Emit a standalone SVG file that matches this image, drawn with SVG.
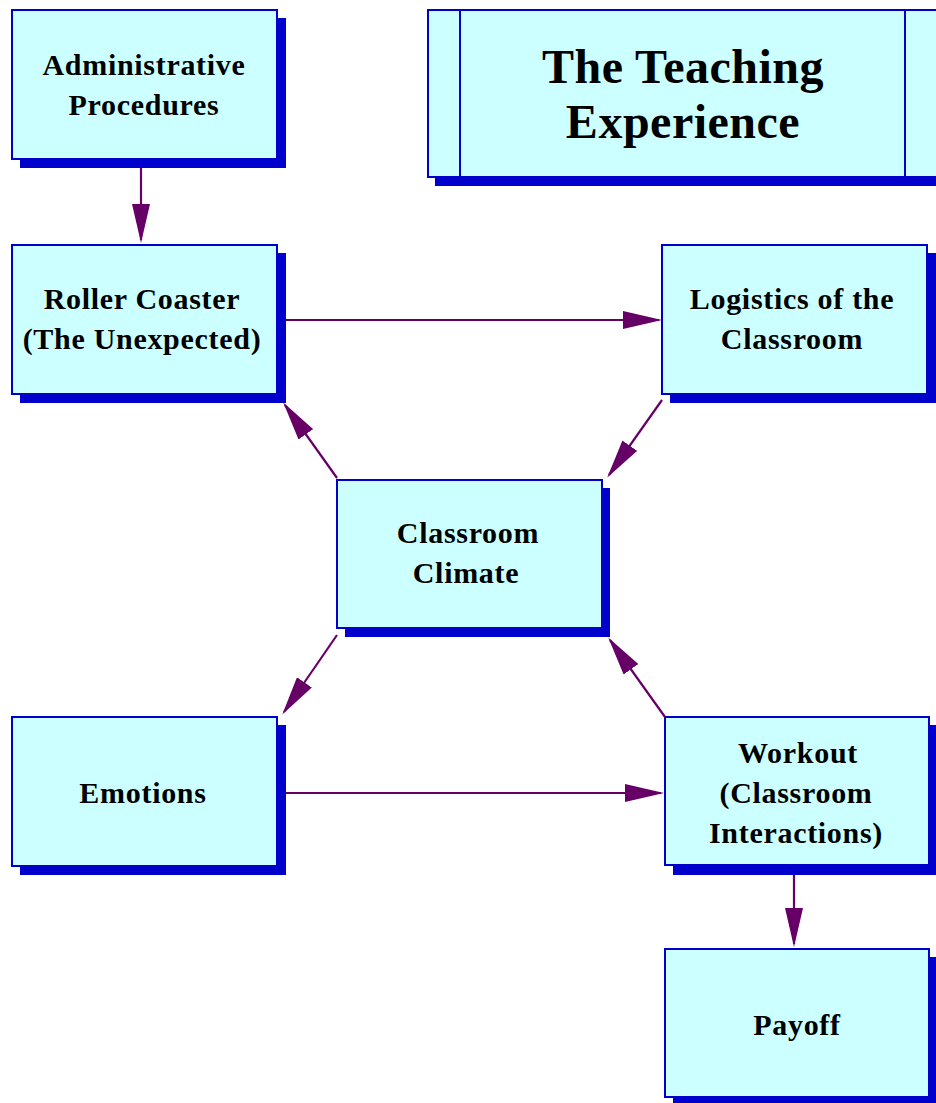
<svg xmlns="http://www.w3.org/2000/svg" width="936" height="1103" viewBox="0 0 936 1103">
  <style>
    .shadow { fill: #0000cc; }
    .box { fill: #ccffff; stroke: #0000cc; stroke-width: 2; }
    .label { font-family: "Liberation Serif", "Times New Roman", serif; font-weight: bold; font-size: 30px; letter-spacing: 0.7px; fill: #000; text-anchor: middle; }
    .title { font-size: 48px; letter-spacing: 0.5px; }
    .edge { stroke: #660066; stroke-width: 2.2; fill: none; marker-end: url(#head); }
  </style>
  <defs>
    <marker id="head" viewBox="0 0 39 18" refX="36" refY="9" markerWidth="39" markerHeight="18" markerUnits="userSpaceOnUse" orient="auto">
      <path d="M0,0 L39,9 L0,18 Z" fill="#660066"/>
    </marker>
  </defs>

  <rect width="936" height="1103" fill="#ffffff"/>

  <!-- title banner -->
  <g id="title">
    <rect class="shadow" x="435" y="17" width="520" height="169"/>
    <rect class="box" x="428" y="10" width="520" height="167"/>
    <line x1="460" y1="10" x2="460" y2="177" stroke="#0000cc" stroke-width="2"/>
    <line x1="905" y1="10" x2="905" y2="177" stroke="#0000cc" stroke-width="2"/>
    <text class="label title" x="683" y="83">The Teaching</text>
    <text class="label title" x="683" y="138">Experience</text>
  </g>

  <g id="admin">
    <rect class="shadow" x="20" y="18" width="266" height="150"/>
    <rect class="box" x="12" y="10" width="265" height="149"/>
    <text class="label" x="144" y="75">Administrative</text>
    <text class="label" x="144" y="115">Procedures</text>
  </g>

  <g id="roller">
    <rect class="shadow" x="20" y="253" width="266" height="150"/>
    <rect class="box" x="12" y="245" width="265" height="149"/>
    <text class="label" x="142" y="309">Roller Coaster</text>
    <text class="label" x="142" y="349">(The Unexpected)</text>
  </g>

  <g id="logistics">
    <rect class="shadow" x="670" y="253" width="266" height="150"/>
    <rect class="box" x="662" y="245" width="265" height="149"/>
    <text class="label" x="792" y="309">Logistics of the</text>
    <text class="label" x="792" y="349">Classroom</text>
  </g>

  <g id="climate">
    <rect class="shadow" x="345" y="488" width="265" height="149"/>
    <rect class="box" x="337" y="480" width="265" height="148"/>
    <text class="label" x="468" y="543">Classroom</text>
    <text class="label" x="466" y="583">Climate</text>
  </g>

  <g id="emotions">
    <rect class="shadow" x="20" y="725" width="266" height="150"/>
    <rect class="box" x="12" y="717" width="265" height="149"/>
    <text class="label" x="143" y="803">Emotions</text>
  </g>

  <g id="workout">
    <rect class="shadow" x="673" y="725" width="266" height="150"/>
    <rect class="box" x="665" y="717" width="264" height="148"/>
    <text class="label" x="798" y="763">Workout</text>
    <text class="label" x="796" y="803">(Classroom</text>
    <text class="label" x="796" y="843">Interactions)</text>
  </g>

  <g id="payoff">
    <rect class="shadow" x="673" y="957" width="266" height="150"/>
    <rect class="box" x="665" y="949" width="264" height="148"/>
    <text class="label" x="797" y="1035">Payoff</text>
  </g>

  <g id="connectors">
    <line class="edge" x1="141" y1="168" x2="141" y2="240"/>
    <line class="edge" x1="286" y1="320" x2="659" y2="320"/>
    <line class="edge" x1="662" y1="400" x2="609" y2="475"/>
    <line class="edge" x1="337" y1="478" x2="285" y2="405"/>
    <line class="edge" x1="337" y1="635" x2="284" y2="712"/>
    <line class="edge" x1="286" y1="793" x2="661" y2="793"/>
    <line class="edge" x1="665" y1="717" x2="610" y2="640"/>
    <line class="edge" x1="794" y1="875" x2="794" y2="944"/>
  </g>
</svg>
